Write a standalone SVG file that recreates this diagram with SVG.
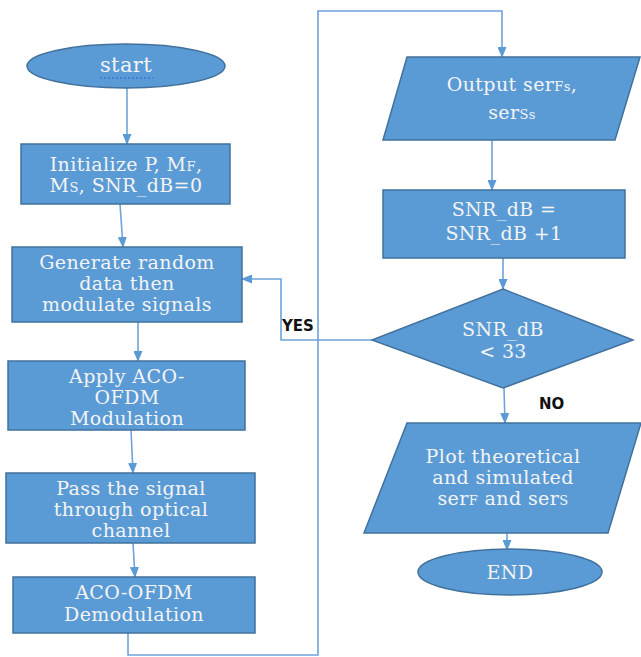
<svg xmlns="http://www.w3.org/2000/svg" width="641" height="657" viewBox="0 0 641 657">
<style>
.n{fill:#5b9bd5;stroke:#41719c;stroke-width:1.5}
.t{font-family:"DejaVu Serif","Liberation Serif",serif;font-size:19px;letter-spacing:0.4px;fill:#f4f4f4;text-anchor:middle}
.s{font-size:13px}
.c{fill:none;stroke:#6fa3da;stroke-width:1.6}
.l{font-family:"DejaVu Sans","Liberation Sans",sans-serif;font-size:15px;font-weight:bold;fill:#111}
</style>
<defs>
<marker id="a" markerUnits="userSpaceOnUse" markerWidth="11" markerHeight="9" refX="10" refY="4.5" orient="auto">
<path d="M0,0 L11,4.5 L0,9 z" fill="#5b9bd5"/>
</marker>
</defs>
<rect width="641" height="657" fill="#fff"/>
<g id="connectors">
<path class="c" d="M127,88 L127,144" marker-end="url(#a)"/>
<path class="c" d="M120,204 L123,247" marker-end="url(#a)"/>
<path class="c" d="M138,322 L138,361" marker-end="url(#a)"/>
<path class="c" d="M131,430 L133,473" marker-end="url(#a)"/>
<path class="c" d="M133,543 L135,577" marker-end="url(#a)"/>
<path class="c" d="M128,633 L128,655 L318,655 L318,11 L502,11 L502,57" marker-end="url(#a)"/>
<path class="c" d="M492,140 L492,190" marker-end="url(#a)"/>
<path class="c" d="M503,258 L503,289" marker-end="url(#a)"/>
<path class="c" d="M372,340 L281,340 L281,279 L242,279" marker-end="url(#a)"/>
<path class="c" d="M504,388 L505,423" marker-end="url(#a)"/>
<path class="c" d="M507,533 L507,550" marker-end="url(#a)"/>
<text class="l" x="282" y="331">YES</text>
<text class="l" x="539" y="409">NO</text>
</g>
<g id="start">
<ellipse class="n" cx="126" cy="66" rx="99" ry="22"/>
<text class="t" x="126" y="72" style="font-size:21px">start</text>
<line x1="100" y1="78" x2="153" y2="78" stroke="#3b5bd6" stroke-width="1.2" stroke-dasharray="2,2"/>
</g>
<g id="init">
<rect class="n" x="21" y="144" width="209" height="60"/>
<text class="t" x="126" y="171">Initialize P, M<tspan class="s">F</tspan>,</text>
<text class="t" x="126" y="192">M<tspan class="s">S</tspan>, SNR_dB=0</text>
</g>
<g id="generate">
<rect class="n" x="12" y="247" width="230" height="75"/>
<text class="t" x="127" y="269">Generate random</text>
<text class="t" x="127" y="290">data then</text>
<text class="t" x="127" y="311">modulate signals</text>
</g>
<g id="apply">
<rect class="n" x="8" y="361" width="237" height="69"/>
<text class="t" x="127" y="383">Apply ACO-</text>
<text class="t" x="127" y="404">OFDM</text>
<text class="t" x="127" y="425">Modulation</text>
</g>
<g id="pass">
<rect class="n" x="6" y="473" width="249" height="70"/>
<text class="t" x="131" y="495">Pass the signal</text>
<text class="t" x="131" y="516">through optical</text>
<text class="t" x="131" y="537">channel</text>
</g>
<g id="demod">
<rect class="n" x="13" y="577" width="242" height="56"/>
<text class="t" x="134" y="599">ACO-OFDM</text>
<text class="t" x="134" y="621">Demodulation</text>
</g>
<g id="output">
<polygon class="n" points="407,57 640,57 615,140 383,140"/>
<text class="t" x="512" y="91">Output ser<tspan class="s">Fs</tspan>,</text>
<text class="t" x="512" y="119">ser<tspan class="s">Ss</tspan></text>
</g>
<g id="snr">
<rect class="n" x="383" y="190" width="242" height="68"/>
<text class="t" x="504" y="216">SNR_dB =</text>
<text class="t" x="504" y="240">SNR_dB +1</text>
</g>
<g id="decision">
<polygon class="n" points="503,289 633,340 503,388 372,340"/>
<text class="t" x="503" y="336">SNR_dB</text>
<text class="t" x="503" y="358">&lt; 33</text>
</g>
<g id="plot">
<polygon class="n" points="407,423 641,423 608,533 364,533"/>
<text class="t" x="503" y="463">Plot theoretical</text>
<text class="t" x="503" y="484">and simulated</text>
<text class="t" x="503" y="505">ser<tspan class="s">F</tspan> and ser<tspan class="s">S</tspan></text>
</g>
<g id="end">
<ellipse class="n" cx="510" cy="572" rx="92" ry="23"/>
<text class="t" x="510" y="579">END</text>
</g>
</svg>
